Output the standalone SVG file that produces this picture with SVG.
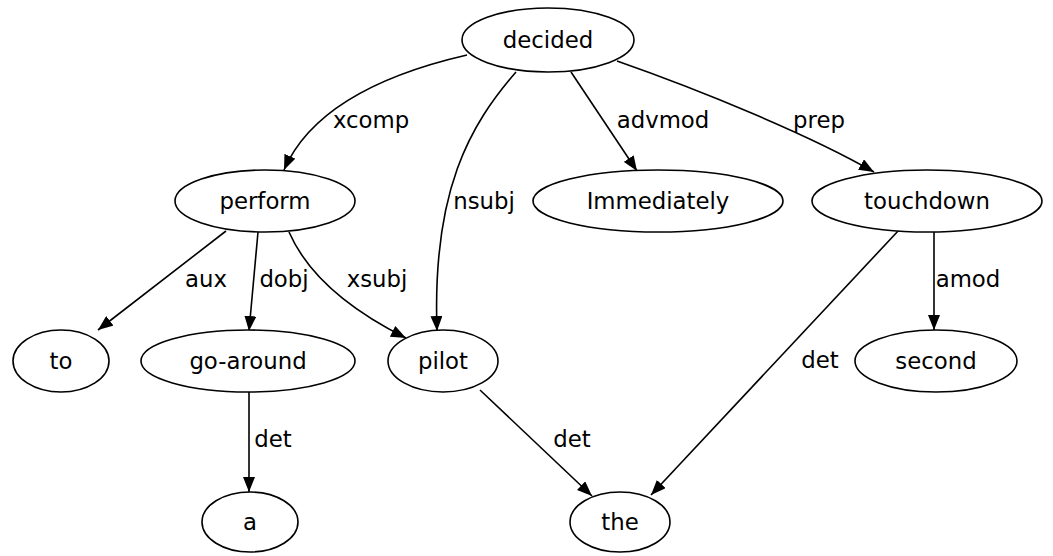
<svg xmlns="http://www.w3.org/2000/svg" width="1053" height="556" viewBox="0 0 1053 556">
<defs>
<marker id="arr" markerUnits="userSpaceOnUse" markerWidth="16" markerHeight="12" refX="15" refY="6" orient="auto"><path d="M0,0 L15,6 L0,12 Z" fill="#000"/></marker>
<style>
ellipse{fill:#fff;stroke:#000;stroke-width:1.6}
text{font-family:"DejaVu Sans",sans-serif;font-size:22.8px;fill:#000}
.n text{text-anchor:middle}
.lbl{text-anchor:middle}
#edges path{fill:none;stroke:#000;stroke-width:1.6;marker-end:url(#arr)}
</style>
</defs>
<rect width="1053" height="556" fill="#fff"/>
<g id="edges">
<path d="M467,55 C380,75 310,110 284,170"/>
<path d="M516,72 C470,125 432,190 437,331"/>
<path d="M571,72 L637,171"/>
<path d="M617,61 C700,90 810,135 874,172"/>
<path d="M226,231 L98,330"/>
<path d="M258,232 L249,331"/>
<path d="M289,232 C310,280 360,315 406,338"/>
<path d="M249,392 L249,492"/>
<path d="M480,390 L592,496"/>
<path d="M899,230 L651,495"/>
<path d="M934,232 L934,330"/>
<text class="lbl" x="371" y="128">xcomp</text>
<text class="lbl" x="484" y="209">nsubj</text>
<text class="lbl" x="663" y="128">advmod</text>
<text class="lbl" x="819" y="128">prep</text>
<text class="lbl" x="206" y="287">aux</text>
<text class="lbl" x="284" y="287">dobj</text>
<text class="lbl" x="377" y="287">xsubj</text>
<text class="lbl" x="968" y="287">amod</text>
<text class="lbl" x="273" y="447">det</text>
<text class="lbl" x="572" y="447">det</text>
<text class="lbl" x="820" y="368">det</text>
</g>
<g id="decided" class="n"><ellipse cx="548" cy="40" rx="86" ry="32"/><text x="548" y="48">decided</text></g>
<g id="perform" class="n"><ellipse cx="265" cy="201" rx="90" ry="31"/><text x="265" y="209">perform</text></g>
<g id="immediately" class="n"><ellipse cx="658" cy="201" rx="125" ry="31"/><text x="658" y="209">Immediately</text></g>
<g id="touchdown" class="n"><ellipse cx="927" cy="201" rx="115" ry="31"/><text x="927" y="209">touchdown</text></g>
<g id="to" class="n"><ellipse cx="61" cy="361" rx="48" ry="31"/><text x="61" y="369">to</text></g>
<g id="go-around" class="n"><ellipse cx="248" cy="361" rx="107" ry="31"/><text x="248" y="369">go-around</text></g>
<g id="pilot" class="n"><ellipse cx="443" cy="361" rx="55" ry="31"/><text x="443" y="369">pilot</text></g>
<g id="second" class="n"><ellipse cx="936" cy="361" rx="81" ry="31"/><text x="936" y="369">second</text></g>
<g id="a" class="n"><ellipse cx="250" cy="522" rx="48" ry="30"/><text x="250" y="530">a</text></g>
<g id="the" class="n"><ellipse cx="620" cy="522" rx="50" ry="30"/><text x="620" y="530">the</text></g>
</svg>
